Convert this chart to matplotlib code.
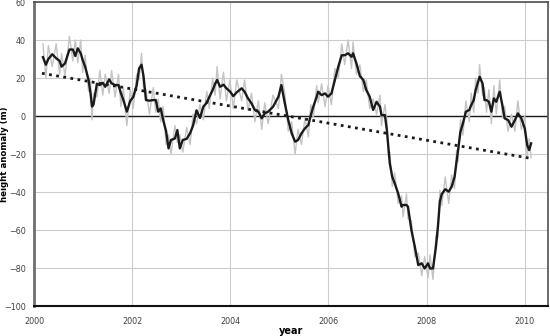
import matplotlib
matplotlib.use('Agg')
import matplotlib.pyplot as plt

# smoothed height anomaly (black) and raw samples (grey)
years = [2000.18, 2000.24, 2000.29, 2000.37, 2000.45, 2000.52, 2000.56, 2000.63, 2000.72, 2000.79,
         2000.84, 2000.89, 2000.95, 2000.99, 2001.04, 2001.11, 2001.15, 2001.18, 2001.21, 2001.28,
         2001.34, 2001.40, 2001.45, 2001.53, 2001.58, 2001.65, 2001.72, 2001.77, 2001.82, 2001.89,
         2001.96, 2002.02, 2002.09, 2002.14, 2002.19, 2002.23, 2002.28, 2002.35, 2002.43, 2002.48,
         2002.53, 2002.58, 2002.63, 2002.69, 2002.74, 2002.79, 2002.87, 2002.92, 2002.97, 2003.03,
         2003.11, 2003.18, 2003.24, 2003.31, 2003.38, 2003.45, 2003.52, 2003.57, 2003.64, 2003.69,
         2003.73, 2003.79, 2003.86, 2003.92, 2003.99, 2004.06, 2004.13, 2004.23, 2004.29, 2004.36,
         2004.43, 2004.50, 2004.57, 2004.64, 2004.70, 2004.77, 2004.87, 2004.98, 2005.04, 2005.11,
         2005.18, 2005.25, 2005.32, 2005.38, 2005.45, 2005.52, 2005.59, 2005.64, 2005.69, 2005.76,
         2005.79, 2005.86, 2005.93, 2005.99, 2006.06, 2006.13, 2006.20, 2006.27, 2006.33, 2006.40,
         2006.47, 2006.50, 2006.57, 2006.64, 2006.71, 2006.77, 2006.84, 2006.91, 2006.98, 2007.05,
         2007.08, 2007.15, 2007.19, 2007.22, 2007.25, 2007.30, 2007.35, 2007.42, 2007.49, 2007.52,
         2007.59, 2007.62, 2007.69, 2007.76, 2007.83, 2007.90, 2007.96, 2008.03, 2008.07, 2008.13,
         2008.19, 2008.23, 2008.27, 2008.31, 2008.38, 2008.45, 2008.51, 2008.57, 2008.61, 2008.64,
         2008.69, 2008.74, 2008.80, 2008.87, 2008.91, 2008.96, 2009.00, 2009.05, 2009.08, 2009.14,
         2009.18, 2009.22, 2009.27, 2009.32, 2009.37, 2009.42, 2009.49, 2009.55, 2009.59, 2009.66,
         2009.73, 2009.80, 2009.86, 2009.93, 2010.00, 2010.05, 2010.09, 2010.13]

smooth = [31, 27, 30, 32.5, 30.4, 29, 26, 27.7, 35, 35,
          31.6, 35.6, 33, 29.5, 26, 19, 12, 5, 6, 17,
          16.3, 17.5, 15.4, 19.3, 17.2, 16.3, 16.3, 12, 8.4, 2.3,
          8, 10, 16, 25, 27, 21, 8.4, 8.1, 8.4, 8.4,
          2.3, 4, -2, -8, -17, -12.6, -11.8, -7.4, -17, -12.6,
          -12, -9, -5, 3, -1, 5, 7, 10, 13.7, 17,
          19, 15.4, 16.5, 14.6, 13, 10.5, 12.5, 14.6, 12.8, 9.3,
          6.7, 3.2, 2.3, -1.2, 1.4, 2.3, 4.9, 10.2, 16.3, 6.7,
          -2.1, -9.1, -13.5, -12.6, -9.1, -6.5, -4.7, 0.5, 4.9, 10.2,
          12.8, 11, 11.9, 10.2, 11.9, 19, 26, 32, 32, 33,
          31.2, 33, 27.7, 21, 19, 13.7, 10.2, 3.2, 7.5, 4.9,
          0.5, 0.5, -7.4, -16, -25, -32, -35.4, -40.7, -47.7, -46.8,
          -46.8, -47.7, -60, -68.8, -78.4, -77.5, -80.2, -77.5, -80.2, -80.2,
          -68.8, -58.3, -45, -41, -38.5, -39.8, -37.2, -32, -24, -17.9,
          -8.2, -3.9, 2.3, 3.2, 5.8, 8.4, 13.7, 18, 20.7, 17.2,
          8.4, 8.4, 7.5, 2.3, 9.3, 7.5, 12.8, 4.9, -1.2, -2.1,
          -5.6, -2.1, 1.4, -1.2, -6.5, -15.3, -17.9, -14.4]

raw = [38, 20, 37, 26, 38, 22, 33, 21, 42, 29,
       40, 28, 40, 23, 32, 13, 20, -2, 12, 10,
       24, 11, 22, 12, 24, 10, 22, 5, 15, -5,
       14, 4, 22, 19, 33, 15, 14, 1, 15, 2,
       9, -3, 5, -15, -10, -20, -5, -14, -10, -19,
       -6, -15, 1, -4, 6, -2, 13, 4, 20, 11,
       26, 9, 23, 8, 19, 4, 19, 8, 19, 3,
       12, -3, 8, -7, 7, -4, 11, 4, 22, 12,
       -8, -3, -20, -7, -15, -1, -11, 6, -1, 16,
       7, 17, 5, 16, 6, 25, 20, 38, 27, 40,
       25, 39, 22, 27, 13, 19, 4, 9, 1, 11,
       -5, 6, -2, -21, -19, -37, -30, -46, -42, -53,
       -41, -54, -55, -74, -72, -84, -74, -85, -73, -86,
       -63, -64, -39, -47, -32, -46, -31, -38, -18, -24,
       -2, -10, 8, -3, 12, 2, 20, 12, 27, 11,
       15, 2, 14, -4, 16, 1, 19, -1, 5, -8,
       1, -8, 8, -7, 0, -21, -12, -22]

trend_x = [2000.16, 2010.13]
trend_y = [22.5, -22.3]

xticks = [2000, 2002, 2004, 2006, 2008, 2010]
yticks = [-100, -80, -60, -40, -20, 0, 20, 40, 60]

fig = plt.figure(figsize=(5.5, 3.36), dpi=100)
ax = fig.add_axes([0.062, 0.089, 0.934, 0.905])

ax.plot(years, raw, color='#c4c4c4', lw=1.0, zorder=2)
ax.plot(years, smooth, color='#1a1a1a', lw=1.7, zorder=3)
ax.plot(trend_x, trend_y, color='#1a1a1a', lw=2, linestyle=(0, (1, 1.6)), zorder=4)
ax.axhline(0, color='#1a1a1a', lw=1, zorder=1)

ax.set_xlim(2000, 2010.47)
ax.set_ylim(-100, 60)
ax.set_xticks(xticks)
ax.set_yticks(yticks)
ax.grid(True, color='#cccccc', lw=0.8)
ax.set_axisbelow(True)
ax.tick_params(length=0, labelsize=5.8, labelcolor='#404040')
ax.tick_params(axis='x', pad=8)
ax.tick_params(axis='y', pad=6)

for side in ['top', 'right']:
    ax.spines[side].set_color('#505050')
    ax.spines[side].set_linewidth(1.2)
ax.spines['left'].set_color('#707070')
ax.spines['left'].set_linewidth(2)
ax.spines['bottom'].set_color('#111111')
ax.spines['bottom'].set_linewidth(1.5)

ax.set_xlabel('year', fontsize=7, fontweight='bold', labelpad=0)
ax.set_ylabel('height anomaly (m)', fontsize=6.2, fontweight='bold')
ax.yaxis.set_label_coords(-0.049, 0.5)

fig.savefig('out.png', dpi=100)
